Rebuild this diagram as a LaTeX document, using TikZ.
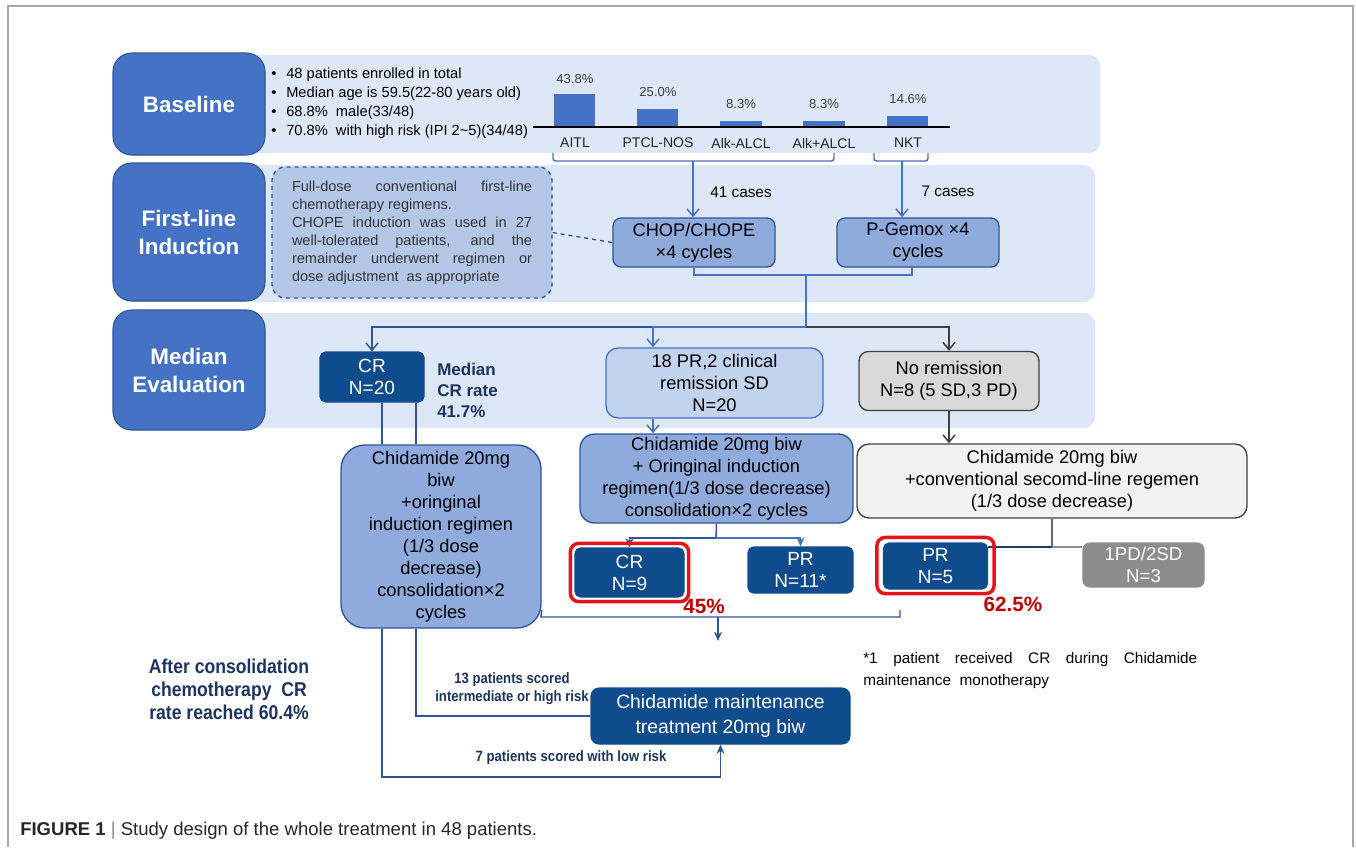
\documentclass[tikz,border=0pt]{standalone}
\usepackage{fontspec}
\setmainfont{Liberation Sans}
\newfontfamily\narrowf{Liberation Sans}[FakeStretch=0.88]
\usetikzlibrary{arrows.meta,calc}
\newdimen\pxu \pxu=0.75pt
\newcommand\myfs[2]{\fontsize{#1pt}{#2pt}\selectfont}
\newcommand\bulletmark{\makebox[15\pxu][l]{•}}
\definecolor{hdrc}{HTML}{4472C4}
\definecolor{hdrb}{HTML}{2F5597}
\definecolor{bandc}{HTML}{DEE7F7}
\definecolor{dashf}{HTML}{B4C7E7}
\definecolor{midb}{HTML}{8FAADC}
\definecolor{blueb}{HTML}{2F5597}
\definecolor{lineb}{HTML}{4472C4}
\definecolor{darkc}{HTML}{0F4C8D}
\definecolor{lightb}{HTML}{C2D3F0}
\definecolor{navy}{HTML}{1C3461}
\definecolor{grayf}{HTML}{D9D9D9}
\definecolor{grayb}{HTML}{404040}
\definecolor{grayl}{HTML}{F2F2F2}
\definecolor{graym}{HTML}{8C8C8C}
\definecolor{redf}{HTML}{E8121A}
\definecolor{redt}{HTML}{C00000}
\definecolor{framec}{HTML}{A6A6A6}
\definecolor{txtg}{HTML}{333333}
\begin{document}
\begin{tikzpicture}[x=0.75pt,y=-0.75pt,
  wh/.style 2 args={minimum width=#1*0.75pt, minimum height=#2*0.75pt},
  hdrbox/.style={draw=hdrb, fill=hdrc, rounded corners=14pt, line width=0.8pt, text=white, font=\bfseries\myfs{16.8}{21}, align=center, inner sep=0pt},
  dashbox/.style={draw=blueb, fill=dashf, dashed, rounded corners=10pt, line width=1pt, text=txtg, font=\myfs{10.9}{13.5}, align=left, inner sep=0pt},
  chopbox/.style={draw=blueb, fill=midb, rounded corners=6pt, line width=1pt, font=\myfs{13.7}{16.5}, align=center, inner sep=0pt},
  darkbox/.style={draw=darkc, fill=darkc, rounded corners=4pt, line width=0.8pt, text=white, font=\myfs{14.3}{16.5}, align=center, inner sep=0pt},
  lightbox/.style={draw=lineb, fill=lightb, rounded corners=9pt, line width=1pt, font=\myfs{13.7}{16.5}, align=center, inner sep=0pt},
  graybox/.style={draw=grayb, fill=grayf, rounded corners=7pt, line width=1pt, font=\myfs{13.7}{16.5}, align=center, inner sep=0pt},
  palebox/.style={draw=grayb, fill=grayl, rounded corners=9pt, line width=1pt, font=\myfs{13.7}{16.5}, align=center, inner sep=0pt},
  midgraybox/.style={draw=graym, fill=graym, rounded corners=5pt, line width=0.8pt, text=white, font=\myfs{14}{16.5}, align=center, inner sep=0pt},
  pct/.style={font=\myfs{9.8}{11}, text=grayb, inner sep=0pt},
  cat/.style={font=\myfs{10.5}{12}, text=black!85, inner sep=0pt},
  navytxt/.style={font=\bfseries\myfs{12.75}{15.75}, text=navy, inner sep=0pt},
  narrowtxt/.style={font=\narrowf\bfseries\myfs{11.2}{13.5}, text=navy, align=center, inner sep=0pt},
  redtxt/.style={font=\bfseries\myfs{15.5}{17}, text=redt, inner sep=0pt},
  redframe/.style={draw=redf, line width=2.6pt, rounded corners=6pt},
  conn/.style={line width=1.1pt},
  openarrow/.style={-{Straight Barb[length=5.5pt,width=9pt]}},
  fillarrow/.style={-{Stealth[length=7pt,width=6pt]}}
]
\useasboundingbox (0,0) rectangle (1356,847);
% outer frame
\draw[framec, line width=1.2pt] (8,847) -- (8,6) -- (1353,6) -- (1353,847);
% bands
\fill[bandc, rounded corners=8pt] (240,55) rectangle (1100,153);
\fill[bandc, rounded corners=8pt] (240,165) rectangle (1095,302);
\fill[bandc, rounded corners=8pt] (240,313) rectangle (1095,428);
% headers
\node[hdrbox, wh={152}{102}] (hA) at (189,104) {Baseline};
\node[hdrbox, wh={152}{138}] (hB) at (189,232) {First-line\\Induction};
\node[hdrbox, wh={152}{120}] (hC) at (189,370) {Median\\Evaluation};
% bullets
\node[anchor=west, align=left, font=\myfs{11}{14.25}, inner sep=0pt] (bul) at (271,103)
  {\bulletmark 48 patients enrolled in total\\
   \bulletmark Median age is 59.5(22-80 years old)\\
   \bulletmark 68.8\%\ \ male(33/48)\\
   \bulletmark 70.8\%\ \ with high risk (IPI 2\textasciitilde5)(34/48)};
% bar chart
\fill[hdrc] (554,94) rectangle (595,127);
\fill[hdrc] (637,109) rectangle (678,127);
\fill[hdrc] (720,121) rectangle (762,127);
\fill[hdrc] (803,121) rectangle (845,127);
\fill[hdrc] (887,116) rectangle (928,127);
\draw[black, line width=1.2pt] (533,127) -- (950,127);
\node[pct] (p1) at (575,79) {43.8\%};
\node[pct] (p2) at (658,92) {25.0\%};
\node[pct] (p3) at (741,104) {8.3\%};
\node[pct] (p4) at (824,104) {8.3\%};
\node[pct] (p5) at (908,99) {14.6\%};
\node[cat] (c1) at (575,143) {AITL};
\node[cat] (c2) at (658,143) {PTCL-NOS};
\node[cat] (c3) at (741,143) {Alk-ALCL};
\node[cat] (c4) at (824,143) {Alk+ALCL};
\node[cat] (c5) at (908,143) {NKT};
% brackets
\draw[lineb, line width=1.1pt, rounded corners=2pt] (553,153) -- (553,161) -- (834,161) -- (834,153);
\draw[lineb, line width=1.1pt, rounded corners=2pt] (874,153) -- (874,161) -- (928,161) -- (928,153);
\coordinate (brA) at (693,161);
\coordinate (brB) at (902,161);
% first-line nodes
\node[dashbox, wh={280}{131}] (dbox) at (412,232.5)
  {\makebox[240\pxu][s]{Full-dose conventional first-line}\\
   chemotherapy regimens.\\
   \makebox[240\pxu][s]{CHOPE induction was used in 27}\\
   \makebox[240\pxu][s]{well-tolerated patients, and the}\\
   \makebox[240\pxu][s]{remainder underwent regimen or}\\
   dose adjustment\ \ as appropriate};
\node[chopbox, wh={162}{49}] (chop) at (694,242.5) {CHOP/CHOPE\\×4 cycles};
\node[chopbox, wh={162}{49}] (pgem) at (918,242.5) {P-Gemox ×4\\cycles};
\node[font=\myfs{11.5}{14}, inner sep=0pt] (l41) at (741,192) {41 cases};
\node[font=\myfs{11.5}{14}, inner sep=0pt] (l7) at (948,191) {7 cases};
% median evaluation nodes
\node[darkbox, wh={104}{50}] (cr1) at (372,377) {CR\\N=20};
\node[navytxt, anchor=west, align=left] (mrate) at (437,390) {Median\\CR rate\\41.7\%};
\node[lightbox, wh={217}{70}] (pr18) at (714.5,383) {18 PR,2 clinical\\remission SD\\N=20};
\node[graybox, wh={180}{59}] (nrem) at (949,381) {No remission\\N=8 (5 SD,3 PD)};
% consolidation nodes
\node[chopbox, rounded corners=18pt, wh={200}{183}] (chidL) at (441,536.5)
  {Chidamide 20mg\\biw\\+oringinal\\induction regimen\\(1/3 dose\\decrease)\\consolidation×2\\cycles};
\node[chopbox, rounded corners=11pt, wh={273}{89}] (chidM) at (716.5,478.5)
  {Chidamide 20mg biw\\+ Oringinal induction\\regimen(1/3 dose decrease)\\consolidation×2 cycles};
\node[palebox, wh={390}{74}] (chidR) at (1052,481)
  {Chidamide 20mg biw\\+conventional secomd-line regemen\\(1/3 dose decrease)};
\node[darkbox, wh={109}{49}] (crM) at (629.5,572.5) {CR\\N=9};
\node[darkbox, wh={105}{46}] (prM) at (800.5,570) {PR\\N=11*};
\node[darkbox, wh={104}{46}] (prR) at (935.5,566) {PR\\N=5};
\node[midgraybox, wh={121}{44}] (pd) at (1143.5,565) {1PD/2SD\\N=3};
\node[redtxt] (r45) at (704,606) {45\%};
\node[redtxt] (r62) at (1013,604) {62.5\%};
% maintenance
\node[darkbox, rounded corners=6pt, font=\myfs{14.5}{19}, wh={259}{56}] (maint) at (720.5,716) {Chidamide maintenance\\treatment 20mg biw};
\node[narrowtxt] (t13) at (512,689) {13 patients scored\\intermediate or high risk};
\node[narrowtxt] (t7) at (571,758) {7 patients scored with low risk};
\node[narrowtxt, font=\narrowf\bfseries\myfs{15}{17.25}] (after) at (229,689) {After consolidation\\chemotherapy\ \ CR\\rate reached 60.4\%};
\node[anchor=north west, align=left, font=\myfs{11.5}{16.5}, inner sep=0pt] (foot) at (863,652)
  {\makebox[334\pxu][s]{*1 patient received CR during Chidamide}\\maintenance\ \ monotherapy};
% caption
\node[anchor=west, font=\myfs{13.9}{16}, text=black!85, inner sep=0pt] (cap) at (20,831)
  {\textbf{FIGURE 1}\ {\color{black!45}|}\ Study design of the whole treatment in 48 patients.};
% connectors top
\draw[conn, lineb, openarrow] (brA) -- (brA |- chop.north);
\draw[conn, lineb, openarrow] (brB) -- (brB |- pgem.north);
\draw[blueb, dashed, line width=1pt] (dbox.east) -- (chop.west);
\coordinate (j1) at (806,275);
\coordinate (split) at (806,327);
\draw[conn, lineb] (chop.south) |- (j1) -| ($(pgem.south)+(-6,0)$);
\draw[conn, lineb] (j1) -- (split);
\draw[conn, blueb, openarrow] (split) -| (cr1.north);
\draw[conn, lineb, openarrow] (split) -| (653,0 |- pr18.north);
\draw[conn, grayb, openarrow] (split) -| (nrem.north);
% connectors middle
\draw[conn, lineb, openarrow] (653,0 |- pr18.south) -- (653,0 |- chidM.north);
\draw[conn, grayb, openarrow] (nrem.south) -- (nrem.south |- chidR.north);
\draw[conn, blueb] (382,0 |- cr1.south) -- (382,0 |- chidL.north);
\draw[conn, blueb] (416,0 |- cr1.south) -- (416,0 |- chidL.north);
\coordinate (jm) at (716,538);
\draw[conn, blueb] (chidM.south) -- (jm);
\draw[conn, blueb, fillarrow] (jm) -| (crM.north);
\draw[conn, lineb, fillarrow] (jm) -| (prM.north);
\coordinate (jr) at (1052,547);
\draw[conn, grayb!80] (chidR.south) -- (jr);
\draw[conn, blueb!70!black] (prR.east |- jr) -- (jr);
\draw[conn, graym] (jr) -- (pd.west |- jr);
% red frames
\draw[redframe] ($(crM.south west)+(-4,4)$) rectangle ($(crM.north east)+(4,-4)$);
\draw[redframe] ($(prR.south west)+(-6,4)$) rectangle ($(prR.north east)+(6,-5)$);
% merge and bottom
\coordinate (mL) at (541,617);
\coordinate (mR) at (900,617);
\coordinate (mC) at (718,617);
\coordinate (mEnd) at (718,641);
\draw[conn, blueb] (chidL.east |- 0,610) -- (mL) -- (mR) -- (900,610);
\draw[conn, blueb, fillarrow] (mC) -- (mEnd);
\coordinate (lowL) at (382,777);
\coordinate (midL) at (416,716);
\draw[conn, blueb, fillarrow] (382,0 |- chidL.south) -- (lowL) -| (maint.south);
\draw[conn, blueb] (416,0 |- chidL.south) -- (midL) -- (maint.west);
\end{tikzpicture}
\end{document}
